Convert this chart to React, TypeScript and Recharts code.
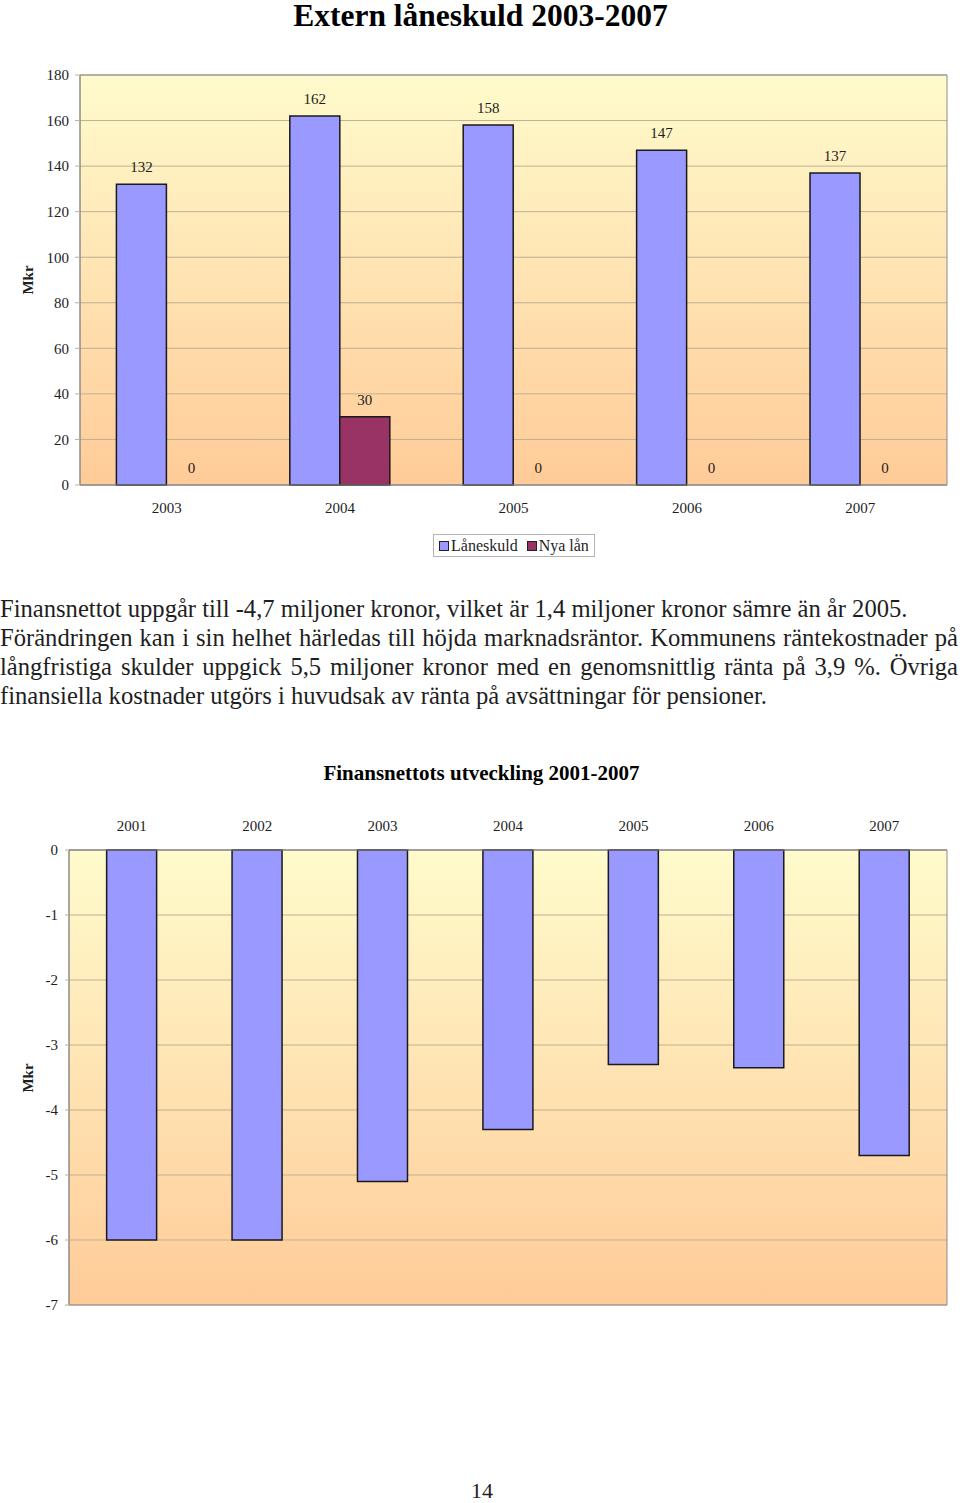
import React from "react"
import {
  Bar,
  BarChart,
  CartesianGrid,
  LabelList,
  Legend,
  Rectangle,
  ReferenceArea,
  XAxis,
  YAxis,
} from "recharts"

// Extern låneskuld 2003-2007
const years1 = ["2003", "2004", "2005", "2006", "2007"]
const laneskuld = [132, 162, 158, 147, 137]
const nyaLan = [0, 30, 0, 0, 0]
const yTicks1 = [0, 20, 40, 60, 80, 100, 120, 140, 160, 180]
const edgeTicks1 = [0, 1, 2, 3, 4, 5]

// Finansnettots utveckling 2001-2007
const years2 = ["2001", "2002", "2003", "2004", "2005", "2006", "2007"]
const finansnetto = [-6.0, -6.0, -5.1, -4.3, -3.3, -3.35, -4.7]
const yTicks2 = [-7, -6, -5, -4, -3, -2, -1, 0]
const edgeTicks2 = [0, 1, 2, 3, 4, 5, 6, 7]

const paragraph = [
  "Finansnettot uppgår till -4,7 miljoner kronor, vilket är 1,4 miljoner kronor sämre än år 2005.",
  "Förändringen kan i sin helhet härledas till höjda marknadsräntor. Kommunens räntekostnader på",
  "långfristiga skulder uppgick 5,5 miljoner kronor med en genomsnittlig ränta på 3,9 %. Övriga",
  "finansiella kostnader utgörs i huvudsak av ränta på avsättningar för pensioner.",
]

const data1 = years1.map((year, i) => ({ year, laneskuld: laneskuld[i], nyaLan: nyaLan[i] }))
const data2 = years2.map((year, i) => ({ year, netto: finansnetto[i] }))

const FONT = "'Liberation Serif', 'Times New Roman', serif"
const TEXT = "#1e1e1e"
const GRID = "#bdb194"
const BORDER = "#8c8c8c"
const tickStyle = { fontFamily: FONT, fontSize: 15, fill: TEXT }
const blank = () => ""

// zero-valued bars keep their "0" label but draw no rectangle
const hideZero = (props: any) =>
  props.value && Number(Array.isArray(props.value) ? props.value[1] - props.value[0] : props.value) !== 0 ? (
    <Rectangle {...props} />
  ) : (
    <g />
  )

const renderLegend = (props: any) => (
  <div
    style={{
      display: "inline-flex",
      alignItems: "center",
      border: "1px solid #b4b4b4",
      background: "#fff",
      padding: "2px 5px",
      fontFamily: FONT,
      fontSize: 16,
      color: TEXT,
      lineHeight: "17px",
    }}
  >
    {(props.payload || []).map((entry: any, i: number) => (
      <span key={i} style={{ display: "inline-flex", alignItems: "center", marginLeft: i ? 9 : 0 }}>
        <span
          style={{
            display: "inline-block",
            width: 8,
            height: 8,
            background: entry.color,
            border: "1px solid #222",
            marginRight: 2,
          }}
        />
        {entry.value}
      </span>
    ))}
  </div>
)

const mkr = (top: number) => (
  <div
    style={{
      position: "absolute",
      left: 28,
      top,
      transform: "translate(-50%, -50%) rotate(-90deg)",
      fontFamily: FONT,
      fontSize: 15,
      fontWeight: "bold",
      color: TEXT,
    }}
  >
    Mkr
  </div>
)

export default function App() {
  return (
    <div style={{ position: "absolute", left: 0, top: 0, width: 960, height: 1503, background: "#fff" }}>
      <div
        style={{
          position: "absolute",
          top: 0,
          width: 961,
          textAlign: "center",
          fontFamily: FONT,
          fontSize: 31.5,
          fontWeight: "bold",
          lineHeight: "31px",
          color: "#000",
        }}
      >
        Extern låneskuld 2003-2007
      </div>

      <div style={{ position: "absolute", left: 0, top: 0 }}>
        <BarChart
          width={960}
          height={570}
          data={data1}
          margin={{ top: 75, right: 13, left: 20, bottom: 55 }}
          barCategoryGap="21%"
          barGap={0}
        >
          <defs>
            <linearGradient id="bg1" x1="0" y1="0" x2="0" y2="1">
              <stop offset="0" stopColor="#FFFBCC" />
              <stop offset="1" stopColor="#FFCB98" />
            </linearGradient>
          </defs>
          <CartesianGrid vertical={false} stroke={GRID} fill="url(#bg1)" fillOpacity={1} />
          <XAxis
            xAxisId="edge"
            type="number"
            domain={[0, 5]}
            ticks={edgeTicks1}
            allowDataOverflow
            height={0}
            tickSize={5}
            tickFormatter={blank}
            axisLine={false}
            tickLine={{ stroke: BORDER }}
          />
          <XAxis
            dataKey="year"
            height={30}
            tickSize={0}
            tickMargin={17}
            tickLine={false}
            axisLine={{ stroke: BORDER }}
            tick={tickStyle}
          />
          <YAxis
            width={60}
            domain={[0, 180]}
            ticks={yTicks1}
            tickSize={5}
            tickMargin={6}
            axisLine={{ stroke: BORDER }}
            tickLine={{ stroke: GRID }}
            tick={tickStyle}
          />
          <ReferenceArea y1={0} y2={180} fill="none" stroke={BORDER} />
          <Legend
            layout="horizontal"
            verticalAlign="middle"
            align="center"
            content={renderLegend}
            wrapperStyle={{ top: 534, left: 433, width: "auto" }}
          />
          <Bar
            dataKey="laneskuld"
            name="Låneskuld"
            fill="#9999FF"
            stroke="#1a1a1a"
            strokeWidth={1.5}
            minPointSize={0.01}
            shape={hideZero}
            isAnimationActive={false}
          >
            <LabelList dataKey="laneskuld" position="top" offset={12} style={tickStyle} />
          </Bar>
          <Bar
            dataKey="nyaLan"
            name="Nya lån"
            fill="#993366"
            stroke="#1a1a1a"
            strokeWidth={1.5}
            minPointSize={0.01}
            shape={hideZero}
            isAnimationActive={false}
          >
            <LabelList dataKey="nyaLan" position="top" offset={12} style={tickStyle} />
          </Bar>
        </BarChart>
      </div>
      {mkr(280)}

      <div style={{ position: "absolute", left: 0, top: 594, fontFamily: FONT, fontSize: 24.6, lineHeight: "29px", color: TEXT }}>
        {paragraph.map((line, i) => (
          <div
            key={i}
            style={{
              width: 958,
              whiteSpace: "nowrap",
              textAlign: i === 1 || i === 2 ? "justify" : "left",
              textAlignLast: i === 1 || i === 2 ? "justify" : "left",
            }}
          >
            {line}
          </div>
        ))}
      </div>

      <div
        style={{
          position: "absolute",
          top: 761,
          width: 963,
          textAlign: "center",
          fontFamily: FONT,
          fontSize: 21,
          fontWeight: "bold",
          lineHeight: "24px",
          color: "#000",
        }}
      >
        Finansnettots utveckling 2001-2007
      </div>

      <div style={{ position: "absolute", left: 0, top: 790 }}>
        <BarChart
          width={960}
          height={540}
          data={data2}
          margin={{ top: 30, right: 13, left: 19, bottom: 25 }}
          barCategoryGap="30%"
        >
          <defs>
            <linearGradient id="bg2" x1="0" y1="0" x2="0" y2="1">
              <stop offset="0" stopColor="#FFFBCC" />
              <stop offset="1" stopColor="#FFCB98" />
            </linearGradient>
          </defs>
          <CartesianGrid vertical={false} stroke={GRID} fill="url(#bg2)" fillOpacity={1} />
          <XAxis
            xAxisId="edge"
            orientation="top"
            type="number"
            domain={[0, 7]}
            ticks={edgeTicks2}
            allowDataOverflow
            height={0}
            tickSize={3}
            tickFormatter={blank}
            axisLine={false}
            tickLine={{ stroke: BORDER }}
          />
          <XAxis
            dataKey="year"
            orientation="top"
            height={30}
            tickSize={0}
            tickMargin={19}
            tickLine={false}
            axisLine={{ stroke: BORDER }}
            tick={tickStyle}
          />
          <YAxis
            width={50}
            domain={[-7, 0]}
            ticks={yTicks2}
            tickSize={4}
            tickMargin={7}
            axisLine={{ stroke: BORDER }}
            tickLine={{ stroke: GRID }}
            tick={tickStyle}
          />
          <ReferenceArea y1={-7} y2={0} fill="none" stroke={BORDER} />
          <Bar
            dataKey="netto"
            fill="#9999FF"
            stroke="#1a1a1a"
            strokeWidth={1.5}
            isAnimationActive={false}
          />
        </BarChart>
      </div>
      {mkr(1078)}

      <div
        style={{
          position: "absolute",
          top: 1478,
          width: 964,
          textAlign: "center",
          fontFamily: FONT,
          fontSize: 22,
          lineHeight: "26px",
          color: TEXT,
        }}
      >
        14
      </div>
    </div>
  )
}
